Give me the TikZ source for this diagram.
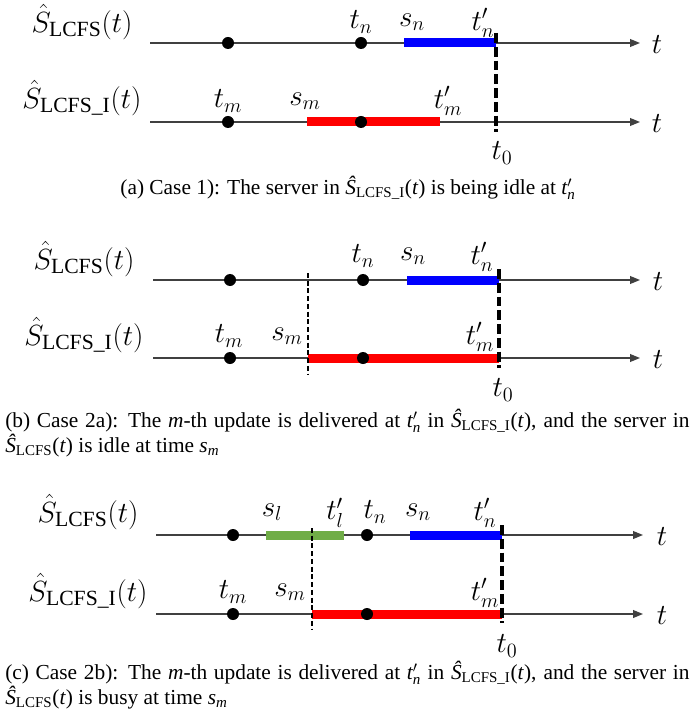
\documentclass[tikz,border=0pt]{standalone}
\usepackage{amsmath}
\usepackage{fontspec}
\setmainfont{Liberation Serif}
\usetikzlibrary{arrows.meta}
\definecolor{busygreen}{RGB}{112,173,71}
\newcommand{\Sh}[1]{\hat{S}_{\mathrm{#1}}(t)}
\newcommand{\capS}[1]{$\textit{\^S}_{\textrm{#1}}$(\textit{t})}
\newcommand{\capt}[1]{$\textit{t}'_{\textit{#1}}$}
\newcommand{\caps}[1]{$\textit{s}_{\textit{#1}}$}

\begin{document}
\begin{tikzpicture}[
  x=0.025cm, y=-0.025cm,
  lab/.style={font=\fontsize{22}{26}\selectfont,inner sep=0pt},
  captxt/.style={font=\fontsize{15.2}{16}\selectfont,inner sep=0pt},
  ax/.style={draw=black!75,line width=0.9pt,-{Triangle[length=7pt,width=5.5pt]}},
  pt/.style={circle,fill=black,inner sep=0pt,minimum size=3mm},
  bar/.style={line width=6.4pt},
  tz/.style={line width=2.8pt,dash pattern=on 7pt off 2.8pt},
  sm/.style={line width=1.2pt,dash pattern=on 3.5pt off 2pt}
]
\useasboundingbox (0,0) rectangle (695,715);

% (a) case 1
\node[lab] (aS)  at (82,22) {$\Sh{LCFS}$};
\node[lab] (aSI) at (82,98) {$\Sh{LCFS\_I}$};
\coordinate (aU0) at (150,43);  \coordinate (aU1) at (640,43);
\coordinate (aL0) at (150,122); \coordinate (aL1) at (640,122);
\node[lab] (aUt) at (657,45)  {$t$};
\node[lab] (aLt) at (657,124) {$t$};
\draw[ax] (aU0) -- (aU1);
\draw[ax] (aL0) -- (aL1);
\coordinate (asn) at (404,43);  \coordinate (atn) at (496,43);
\coordinate (asm) at (307,122); \coordinate (atm) at (440,122);
\draw[bar,blue] (asn) -- (atn);
\draw[bar,red] (asm) -- (atm);
\foreach \n/\x/\y in {1/228/43,2/361/43,3/228/122,4/361/122}
  \node[pt] (ad\n) at (\x,\y) {};
\node[lab] (atnl) at (361,22)  {$t_n$};
\node[lab] (asnl) at (412,22)  {$s_n$};
\node[lab] (atnp) at (483,23)  {$t'_n$};
\node[lab] (atml) at (228,101) {$t_m$};
\node[lab] (asml) at (305,101) {$s_m$};
\node[lab] (atmp) at (448,101) {$t'_m$};
\node[lab] (at0)  at (502,153) {$t_0$};
\coordinate (az0) at (496,33); \coordinate (az1) at (496,132);
\draw[tz] (az0) -- (az1);
\node[captxt] (capa) at (348,188) {(a) Case 1): The server in \capS{LCFS\_I} is being idle at \capt{n}};

% (b) case 2a
\node[lab] (bS)  at (84,259) {$\Sh{LCFS}$};
\node[lab] (bSI) at (84,335) {$\Sh{LCFS\_I}$};
\coordinate (bU0) at (153,280); \coordinate (bU1) at (640,280);
\coordinate (bL0) at (153,358); \coordinate (bL1) at (640,358);
\node[lab] (bUt) at (658,282) {$t$};
\node[lab] (bLt) at (658,360) {$t$};
\draw[ax] (bU0) -- (bU1);
\draw[ax] (bL0) -- (bL1);
\coordinate (bsn) at (407,280); \coordinate (btn) at (499,280);
\coordinate (bsm) at (308,358); \coordinate (btm) at (499,358);
\draw[bar,blue] (bsn) -- (btn);
\draw[bar,red] (bsm) -- (btm);
\foreach \n/\x/\y in {1/230/280,2/363/280,3/230/358,4/363/358}
  \node[pt] (bd\n) at (\x,\y) {};
\node[lab] (btnl) at (363,256) {$t_n$};
\node[lab] (bsnl) at (413,256) {$s_n$};
\node[lab] (btnp) at (482,257) {$t'_n$};
\node[lab] (btml) at (229,336) {$t_m$};
\node[lab] (bsml) at (287,336) {$s_m$};
\node[lab] (btmp) at (480,337) {$t'_m$};
\node[lab] (bt0)  at (503,390) {$t_0$};
\coordinate (bs0) at (308,273); \coordinate (bs1) at (308,374);
\draw[sm] (bs0) -- (bs1);
\coordinate (bz0) at (499,269); \coordinate (bz1) at (499,368);
\draw[tz] (bz0) -- (bz1);
\node[captxt,text width=17.1cm,align=justify,anchor=west] (capb) at (5,433)
  {(b) Case 2a): The \textit{m}-th update is delivered at \capt{n} in \capS{LCFS\_I}, and the server in\linebreak \capS{LCFS} is idle at time \caps{m}};

% (c) case 2b
\node[lab] (cS)  at (88,512) {$\Sh{LCFS}$};
\node[lab] (cSI) at (88,591) {$\Sh{LCFS\_I}$};
\coordinate (cU0) at (156,535); \coordinate (cU1) at (643,535);
\coordinate (cL0) at (156,614); \coordinate (cL1) at (643,614);
\node[lab] (cUt) at (662,537) {$t$};
\node[lab] (cLt) at (662,616) {$t$};
\draw[ax] (cU0) -- (cU1);
\draw[ax] (cL0) -- (cL1);
\coordinate (csl) at (266,535); \coordinate (ctl) at (344,535);
\coordinate (csn) at (410,535); \coordinate (ctn) at (502,535);
\coordinate (csm) at (312,614); \coordinate (ctm) at (502,614);
\draw[bar,busygreen] (csl) -- (ctl);
\draw[bar,blue] (csn) -- (ctn);
\draw[bar,red] (csm) -- (ctm);
\foreach \n/\x/\y in {1/233/535,2/367/535,3/233/614,4/367/614}
  \node[pt] (cd\n) at (\x,\y) {};
\node[lab] (csll) at (272,512) {$s_l$};
\node[lab] (ctlp) at (335,513) {$t'_l$};
\node[lab] (ctnl) at (375,512) {$t_n$};
\node[lab] (csnl) at (418,512) {$s_n$};
\node[lab] (ctnp) at (485,513) {$t'_n$};
\node[lab] (ctml) at (233,592) {$t_m$};
\node[lab] (csml) at (290,592) {$s_m$};
\node[lab] (ctmp) at (485,593) {$t'_m$};
\node[lab] (ct0)  at (507,646) {$t_0$};
\coordinate (cs0) at (312,528); \coordinate (cs1) at (312,629);
\draw[sm] (cs0) -- (cs1);
\coordinate (cz0) at (502,525); \coordinate (cz1) at (502,623);
\draw[tz] (cz0) -- (cz1);
\node[captxt,text width=17.1cm,align=justify,anchor=west] (capc) at (5,685)
  {(c) Case 2b): The \textit{m}-th update is delivered at \capt{n} in \capS{LCFS\_I}, and the server in\linebreak \capS{LCFS} is busy at time \caps{m}};
\end{tikzpicture}
\end{document}
